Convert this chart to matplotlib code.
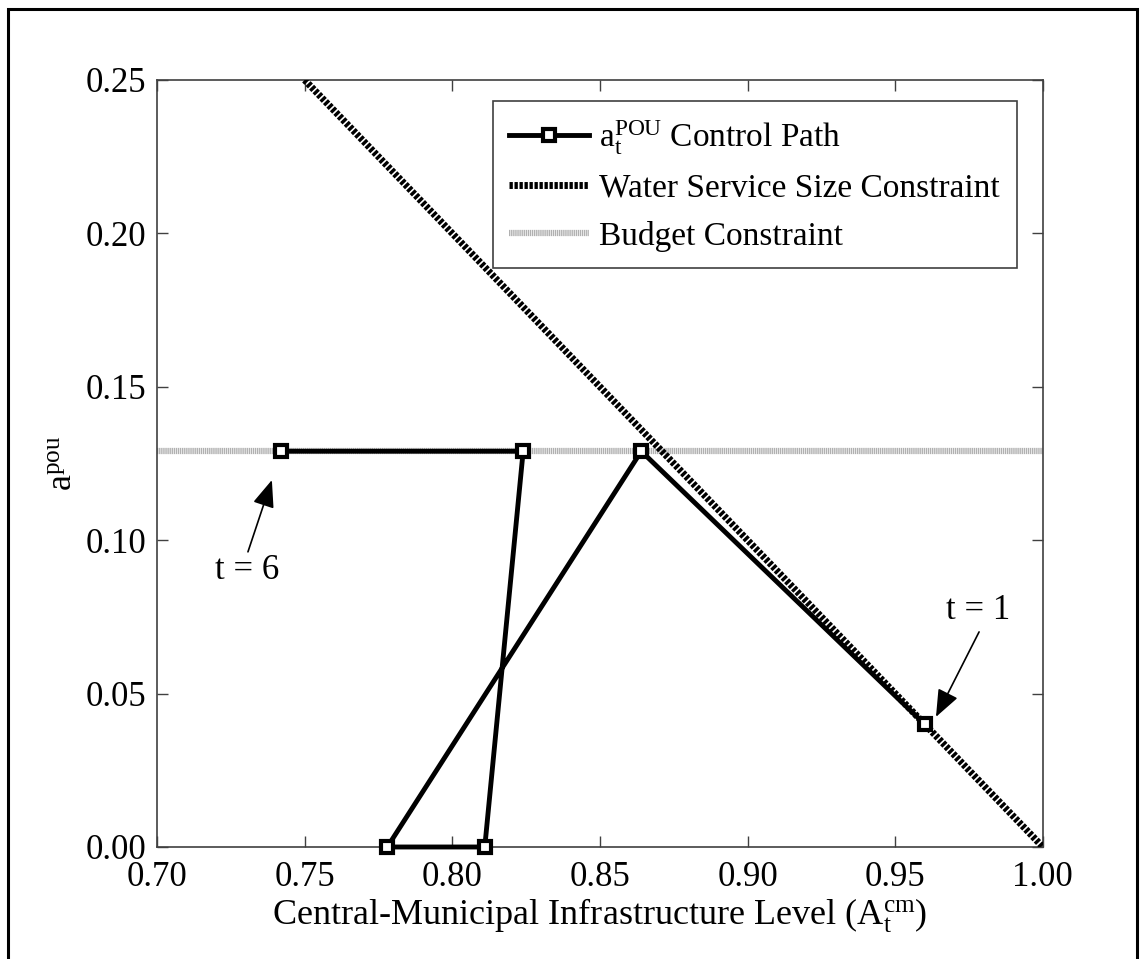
import numpy as np
from matplotlib import pyplot as plt
from matplotlib.patches import Rectangle

plt.rcParams['font.family'] = 'Liberation Serif'
plt.rcParams['mathtext.fontset'] = 'custom'
plt.rcParams['mathtext.rm'] = 'Liberation Serif'
plt.rcParams['mathtext.it'] = 'Liberation Serif'
plt.rcParams['lines.scale_dashes'] = False

# control path, t = 1 ... 6
path_x = [0.960, 0.864, 0.778, 0.811, 0.824, 0.742]
path_y = [0.040, 0.129, 0.000, 0.000, 0.129, 0.129]

# water service size constraint (a + A = 1)
wss_x = [0.75, 1.00]
wss_y = [0.25, 0.00]

# budget constraint
budget_level = 0.129

fig = plt.figure(figsize=(11.46, 9.59), dpi=100)
ax = fig.add_axes([0.137, 0.1168, 0.773, 0.7998])

# Rahmen um die ganze Figur
fig.patches.append(Rectangle((0.007, -0.05), 0.985, 1.0406, transform=fig.transFigure,
                             fill=False, edgecolor='black', linewidth=2.2))

ax.plot(path_x, path_y, color='black', lw=3.5, marker='s', ms=8.5, mew=3.0,
        mfc='white', mec='black', label=r'$\mathregular{a_t^{POU}}$ Control Path',
        zorder=4, clip_on=False)
ax.plot(wss_x, wss_y, color='black', lw=5.0, dashes=(2.4, 1.2), dash_capstyle='butt',
        label='Water Service Size Constraint', zorder=3)
ax.axhline(budget_level, color='#b0b0b0', lw=4.5, dashes=(1.0, 0.5), dash_capstyle='butt',
           label='Budget Constraint', zorder=2)

ax.set_xlim(0.70, 1.00)
ax.set_ylim(0.0, 0.25)
ax.set_xticks(np.arange(0.70, 1.001, 0.05))
ax.set_yticks(np.arange(0.0, 0.251, 0.05))
ax.xaxis.set_major_formatter(plt.FormatStrFormatter('%.2f'))
ax.yaxis.set_major_formatter(plt.FormatStrFormatter('%.2f'))
ax.tick_params(direction='in', length=8, width=1, color='#404040', labelsize=25,
               top=True, right=True)
ax.tick_params(axis='x', pad=10)
ax.tick_params(axis='y', pad=8)
for s in ax.spines.values():
    s.set_color('#404040')
    s.set_linewidth(1.2)

ax.set_xlabel(r'Central-Municipal Infrastructure Level ($\mathregular{A_t^{cm}}$)', fontsize=26, labelpad=2)
ax.set_ylabel(r'$\mathregular{a^{pou}}$', fontsize=26, labelpad=4)

# Pfeile und Beschriftungen
arrow = dict(arrowstyle='-|>,head_length=0.7,head_width=0.28', color='black', lw=1.2,
             mutation_scale=24, shrinkA=0, shrinkB=0)
ax.annotate('', xy=(0.7389, 0.1196), xytext=(0.7308, 0.0962), arrowprops=arrow)
ax.text(0.7305, 0.0900, 't = 6', fontsize=25, ha='center', va='center')
ax.annotate('', xy=(0.9638, 0.0424), xytext=(0.9784, 0.0701), arrowprops=arrow)
ax.text(0.978, 0.0770, 't = 1', fontsize=25, ha='center', va='center')

leg = ax.legend(loc='upper left', bbox_to_anchor=(0.379, 0.972), fontsize=24,
                frameon=True, fancybox=False, edgecolor='#404040', framealpha=1,
                handlelength=2.4, handletextpad=0.3, labelspacing=0.5, borderpad=0.5,
                borderaxespad=0)
leg.get_frame().set_linewidth(1.2)

plt.savefig('out.png', dpi=100)
